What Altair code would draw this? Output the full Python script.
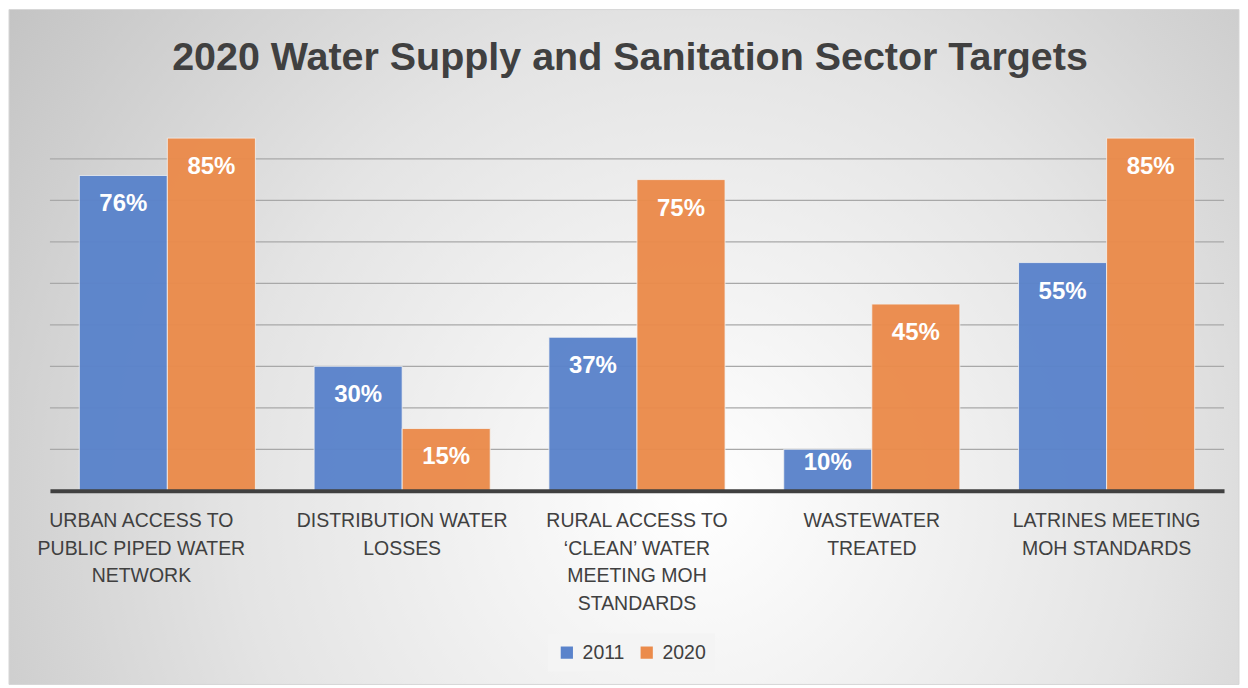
import altair as alt
import pandas as pd

TITLE = "2020 Water Supply and Sanitation Sector Targets"
categories = [
    "URBAN ACCESS TO|PUBLIC PIPED WATER|NETWORK",
    "DISTRIBUTION WATER|LOSSES",
    "RURAL ACCESS TO|\u2018CLEAN\u2019 WATER|MEETING MOH|STANDARDS",
    "WASTEWATER|TREATED",
    "LATRINES MEETING|MOH STANDARDS",
]
years = ["2011", "2020"]
vals_2011 = [0.76, 0.30, 0.37, 0.10, 0.55]
vals_2020 = [0.85, 0.15, 0.75, 0.45, 0.85]
grid_ticks = [0.1, 0.2, 0.3, 0.4, 0.5, 0.6, 0.7, 0.8]
colors = ["#5a83cb", "#eb8b4b"]

rows = []
for c, a, b in zip(categories, vals_2011, vals_2020):
    rows.append({"category": c, "year": "2011", "value": a, "label": f"{round(a*100)}%"})
    rows.append({"category": c, "year": "2020", "value": b, "label": f"{round(b*100)}%"})
df = pd.DataFrame(rows)

W, H = 1176, 374
SANS = "Liberation Sans, Arial, sans-serif"

yscale = alt.Scale(domain=[0, 0.9], nice=False)
xscale = alt.Scale(paddingInner=0.25, paddingOuter=0.125)

bg_fill = alt.Gradient(
    gradient="radial",
    stops=[
        alt.GradientStop(color="#ffffff", offset=0),
        alt.GradientStop(color="#e4e4e4", offset=0.5),
        alt.GradientStop(color="#bdbdbd", offset=1),
    ],
    x1=0.56, y1=0.62, r1=0, x2=0.56, y2=0.62, r2=0.75,
)

bg = alt.Chart(alt.Data(values=[{"a": 1}])).mark_rect(
    fill=bg_fill, stroke="#d6d6d6", strokeWidth=1
).encode(
    x=alt.value(-41), x2=alt.value(W + 15), y=alt.value(-108), y2=alt.value(H + 194)
)

grid = alt.Chart(pd.DataFrame({"v": grid_ticks})).mark_rule(
    color="#a8a8a8", strokeWidth=1.3
).encode(y=alt.Y("v:Q", scale=yscale, axis=None))

xenc = alt.X(
    "category:N",
    sort=categories,
    scale=xscale,
    axis=alt.Axis(
        title=None,
        labelAngle=0,
        labelExpr="split(datum.label, '|')",
        ticks=False,
        grid=False,
        domainColor="#404040",
        domainWidth=4,
        labelFont=SANS,
        labelFontSize=19.5,
        labelColor="#404040",
        labelLineHeight=27.5,
        labelPadding=21,
        labelLimit=0,
        labelBaseline="top",
        labelOffset={"condition": {"test": "indexof(datum.value, 'URBAN') === 0", "value": -26}, "value": 0},
        zindex=1,
    ),
)

bars = alt.Chart(df).mark_bar(
    stroke="#f4f4f4", strokeWidth=1, strokeOpacity=0.8, opacity=0.96
).encode(
    x=xenc,
    xOffset=alt.XOffset("year:N", sort=years),
    y=alt.Y("value:Q", scale=yscale, axis=None),
    color=alt.Color(
        "year:N",
        scale=alt.Scale(domain=years, range=colors),
        legend=alt.Legend(
            title=None,
            orient="none",
            legendX=499,
            legendY=517,
            direction="horizontal",
            symbolType="square",
            symbolSize=150,
            symbolStrokeWidth=0,
            symbolOpacity=1,
            labelFont=SANS,
            labelFontSize=19.5,
            labelColor="#404040",
            labelOffset=6,
            columnPadding=12,
            fillColor="#f4f4f4",
            padding=9,
        ),
    ),
)

labels = alt.Chart(df).transform_calculate(
    pos="datum.value < 0.12 ? datum.value * 0.66 : datum.value - 0.0698"
).mark_text(
    font=SANS, fontSize=24, fontWeight="bold", color="white", baseline="middle"
).encode(
    x=alt.X("category:N", sort=categories, scale=xscale),
    xOffset=alt.XOffset("year:N", sort=years),
    y=alt.Y("pos:Q", scale=yscale, axis=None),
    text="label:N",
)

title = alt.Chart(alt.Data(values=[{"t": TITLE}])).mark_text(
    font=SANS, fontSize=39.5, fontWeight="bold", color="#404040", align="center", baseline="middle"
).encode(x=alt.value(581), y=alt.value(-59), text="t:N")

chart = alt.layer(bg, grid, bars, labels, title).properties(
    width=W, height=H, padding=0
).configure_view(stroke=None).configure(background="white")

chart.save("out.html", embed_options={"renderer": "svg", "actions": False})
